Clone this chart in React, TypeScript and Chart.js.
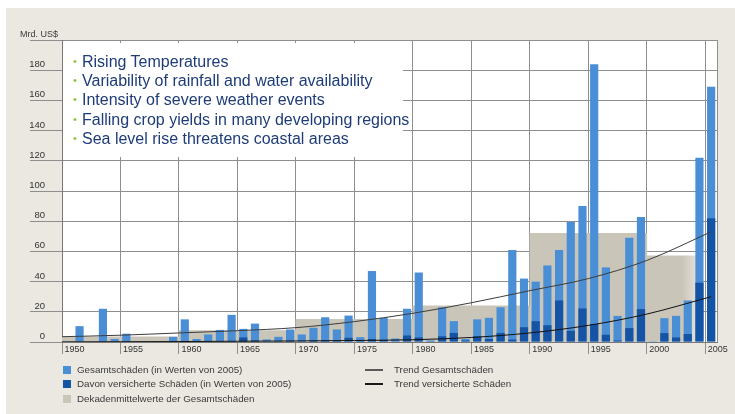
import React, { useEffect, useRef } from 'react';
import { Chart, registerables } from 'chart.js';

Chart.register(...registerables);

// ---------- data ----------
const years = [
  1950, 1951, 1952, 1953, 1954, 1955, 1956, 1957, 1958, 1959,
  1960, 1961, 1962, 1963, 1964, 1965, 1966, 1967, 1968, 1969,
  1970, 1971, 1972, 1973, 1974, 1975, 1976, 1977, 1978, 1979,
  1980, 1981, 1982, 1983, 1984, 1985, 1986, 1987, 1988, 1989,
  1990, 1991, 1992, 1993, 1994, 1995, 1996, 1997, 1998, 1999,
  2000, 2001, 2002, 2003, 2004, 2005,
];

// Gesamtschäden (Mrd. US$, in Werten von 2005)
const totalLosses = [
  0, 10.5, 0, 22, 2, 5.5, 0, 0, 0, 3.4,
  15, 2, 5, 8, 18, 8.7, 12.2, 1.7, 3.4, 8.3,
  5, 9.4, 16.4, 8.3, 17.5, 3.2, 47, 16, 2.3, 22,
  46, 1, 23, 13.8, 2, 15, 16, 23, 61, 42,
  40, 50.7, 61, 79.5, 90, 184, 49.4, 17.3, 69, 82.8,
  0.5, 15.8, 17.3, 27.5, 122, 169,
];

// Davon versicherte Schäden
const insuredLosses = [
  0, 0, 0, 0, 0, 0, 0, 0, 0, 0,
  0.3, 0, 0, 0.3, 0.5, 3, 1, 0.3, 0.5, 0.8,
  0.5, 0.8, 1, 0.8, 2.8, 0.8, 2, 1.5, 0.5, 4.3,
  3, 0.5, 3.8, 6, 1, 3.8, 2, 6, 1.6, 9.8,
  13.8, 11.1, 27.5, 7.4, 22.2, 12, 4.8, 1, 9.2, 21.8,
  0.3, 5.9, 3, 5.3, 39.3, 82,
];

// Dekadenmittelwerte der Gesamtschäden
const decadeStarts = [1950, 1960, 1970, 1980, 1990, 2000];
const decadeMeans = [3.5, 7.5, 15, 24, 72, 57];

// Trend lines
const trendYears = [1950, 1955, 1960, 1965, 1970, 1975, 1980, 1985, 1990, 1995, 2000, 2005.5];
const trendTotal = [3.5, 4.5, 6, 7.5, 9.5, 13.5, 19, 26, 34, 42, 54, 73];
const trendInsured = [0.1, 0.2, 0.3, 0.5, 0.7, 1, 1.5, 3, 6, 11, 18.5, 30];

const bulletPoints = [
  'Rising Temperatures',
  'Variability of rainfall and water availability',
  'Intensity of severe weather events',
  'Falling crop yields in many developing regions',
  'Sea level rise threatens coastal areas',
];

const FONT = '"Liberation Sans", Arial, Helvetica, sans-serif';
const COL_TOTAL = '#4a8fd6';
const COL_INSURED = '#1553a5';
const COL_DECADE = '#c9c5b8';
const COL_GRID = '#8e8e8e';

const chartBgPlugin = {
  id: 'plotBg',
  beforeDraw(chart: any) {
    const { ctx, chartArea } = chart;
    if (!chartArea) return;
    ctx.save();
    ctx.fillStyle = '#ffffff';
    ctx.fillRect(chartArea.left, chartArea.top, chartArea.right - chartArea.left, chartArea.bottom - chartArea.top);
    ctx.restore();
  },
  afterDraw(chart: any) {
    const { ctx, chartArea } = chart;
    if (!chartArea) return;
    ctx.save();
    ctx.strokeStyle = COL_GRID;
    ctx.lineWidth = 1;
    ctx.beginPath();
    ctx.moveTo(Math.round(chartArea.right) + 0.5, chartArea.top);
    ctx.lineTo(Math.round(chartArea.right) + 0.5, chartArea.bottom);
    ctx.stroke();
    ctx.restore();
  },
};

export default function App() {
  const canvasRef = useRef<HTMLCanvasElement>(null);

  useEffect(() => {
    document.body.style.margin = '0';
    const canvas = canvasRef.current;
    if (!canvas) return;

    const lastDecade = decadeStarts.length - 1;

    const chart = new Chart(canvas, {
      type: 'bar',
      data: {
        datasets: [
          {
            type: 'line',
            label: 'Trend versicherte Schäden',
            data: trendYears.map((y, i) => ({ x: y, y: trendInsured[i] })),
            borderColor: '#111111',
            borderWidth: 1,
            pointRadius: 0,
            cubicInterpolationMode: 'monotone',
            xAxisID: 'x',
            order: 0,
          } as any,
          {
            type: 'line',
            label: 'Trend Gesamtschäden',
            data: trendYears.map((y, i) => ({ x: y, y: trendTotal[i] })),
            borderColor: '#3c3c3c',
            borderWidth: 1,
            pointRadius: 0,
            cubicInterpolationMode: 'monotone',
            xAxisID: 'x',
            order: 1,
          } as any,
          {
            type: 'bar',
            label: 'Davon versicherte Schäden (in Werten von 2005)',
            data: years.map((y, i) => ({ x: y + 0.5, y: insuredLosses[i] })),
            backgroundColor: COL_INSURED,
            grouped: false,
            barPercentage: 0.7,
            categoryPercentage: 1,
            xAxisID: 'x',
            order: 2,
          } as any,
          {
            type: 'bar',
            label: 'Gesamtschäden (in Werten von 2005)',
            data: years.map((y, i) => ({ x: y + 0.5, y: totalLosses[i] })),
            backgroundColor: COL_TOTAL,
            grouped: false,
            barPercentage: 0.7,
            categoryPercentage: 1,
            xAxisID: 'x',
            order: 3,
          } as any,
          {
            type: 'bar',
            label: 'Dekadenmittelwerte der Gesamtschäden',
            data: decadeStarts.map((y, i) => ({ x: y + 5, y: decadeMeans[i] })),
            backgroundColor: (c: any) => {
              const ch = c.chart;
              if (!ch.chartArea || c.dataIndex !== lastDecade) return COL_DECADE;
              const s = ch.scales.xDec;
              const x0 = s.getPixelForValue(decadeStarts[lastDecade]);
              const x1 = s.getPixelForValue(decadeStarts[lastDecade] + 10);
              const g = ch.ctx.createLinearGradient(x0, 0, x1, 0);
              g.addColorStop(0, COL_DECADE);
              g.addColorStop(0.3, COL_DECADE);
              g.addColorStop(0.428, '#e4e1d9');
              g.addColorStop(0.43, 'rgba(255,255,255,0)');
              g.addColorStop(1, 'rgba(255,255,255,0)');
              return g;
            },
            grouped: false,
            barPercentage: 1,
            categoryPercentage: 1,
            xAxisID: 'xDec',
            order: 4,
          } as any,
        ],
      },
      options: {
        responsive: false,
        animation: false,
        layout: { padding: { left: 0, top: 40, right: 18, bottom: 52 } },
        plugins: { legend: { display: false }, tooltip: { enabled: false } },
        scales: {
          x: {
            type: 'linear',
            position: 'bottom',
            min: 1950,
            max: 2006,
            offset: false,
            grid: { color: COL_GRID, lineWidth: 1, tickLength: 12, drawTicks: true, offset: false },
            border: { display: true, color: '#777777', width: 1 },
            ticks: {
              stepSize: 5,
              includeBounds: false,
              align: 'start',
              maxRotation: 0,
              autoSkip: false,
              padding: -10,
              color: '#333333',
              font: { family: FONT, size: 9 },
              callback: (v: any) => ' ' + v,
            },
            afterFit: (axis: any) => {
              axis.height = 20;
            },
          },
          xDec: {
            type: 'linear',
            position: 'bottom',
            min: 1950,
            max: 2006,
            offset: false,
            display: false,
            grid: { offset: false },
            ticks: { stepSize: 10, includeBounds: false },
          },
          y: {
            type: 'linear',
            position: 'left',
            min: 0,
            max: 200,
            grid: { color: COL_GRID, lineWidth: 1, tickLength: 32, drawTicks: true },
            border: { display: true, color: '#777777', width: 1 },
            ticks: {
              stepSize: 20,
              padding: -15,
              color: '#333333',
              font: { family: FONT, size: 9.5 },
              callback: (v: any) => (v === 200 ? '' : [String(v), '']),
            },
            afterFit: (axis: any) => {
              axis.width = 62;
            },
          },
        },
      } as any,
      plugins: [chartBgPlugin],
    });

    return () => chart.destroy();
  }, []);

  const legendText: React.CSSProperties = {
    position: 'absolute',
    fontFamily: FONT,
    fontSize: 9.8,
    color: '#3a3a3a',
    whiteSpace: 'nowrap',
    lineHeight: '12px',
  };

  return (
    <div style={{ position: 'relative', width: 735, height: 414, background: '#ffffff', overflow: 'hidden', fontFamily: FONT }}>
      <div style={{ position: 'absolute', left: 6, top: 8, right: 0, bottom: 0, background: '#ebe8e1' }} />
      <canvas
        ref={canvasRef}
        width={735}
        height={414}
        style={{ position: 'absolute', left: 0, top: 0, width: 735, height: 414 }}
      />
      <div style={{ ...legendText, left: 20, top: 28, fontSize: 9 }}>Mrd. US$</div>

      {/* Bullet text box */}
      <div
        style={{
          position: 'absolute',
          left: 63,
          top: 43,
          width: 340,
          height: 114,
          background: '#ffffff',
        }}
      >
        <div style={{ position: 'absolute', left: 10, top: 9 }}>
          {bulletPoints.map((t) => (
            <div key={t} style={{ fontFamily: FONT, fontSize: 16, lineHeight: '19.2px', color: '#1e3c78', whiteSpace: 'nowrap' }}>
              <span style={{ color: '#8dc63f', fontSize: 11, display: 'inline-block', width: 9, verticalAlign: 'top', lineHeight: '19.2px' }}>•</span>
              {t}
            </div>
          ))}
        </div>
      </div>

      {/* Legend left column */}
      <div style={{ position: 'absolute', left: 63, top: 366, width: 8, height: 8, background: COL_TOTAL }} />
      <div style={{ ...legendText, left: 77, top: 364 }}>Gesamtschäden (in Werten von 2005)</div>
      <div style={{ position: 'absolute', left: 63, top: 380, width: 8, height: 8, background: COL_INSURED }} />
      <div style={{ ...legendText, left: 77, top: 378 }}>Davon versicherte Schäden (in Werten von 2005)</div>
      <div style={{ position: 'absolute', left: 63, top: 395, width: 8, height: 8, background: COL_DECADE }} />
      <div style={{ ...legendText, left: 77, top: 393 }}>Dekadenmittelwerte der Gesamtschäden</div>

      {/* Legend right column */}
      <div style={{ position: 'absolute', left: 365, top: 369, width: 18, height: 1.5, background: '#5a5a5a' }} />
      <div style={{ ...legendText, left: 394, top: 364 }}>Trend Gesamtschäden</div>
      <div style={{ position: 'absolute', left: 365, top: 383, width: 18, height: 1.5, background: '#1a1a1a' }} />
      <div style={{ ...legendText, left: 394, top: 378 }}>Trend versicherte Schäden</div>
    </div>
  );
}
